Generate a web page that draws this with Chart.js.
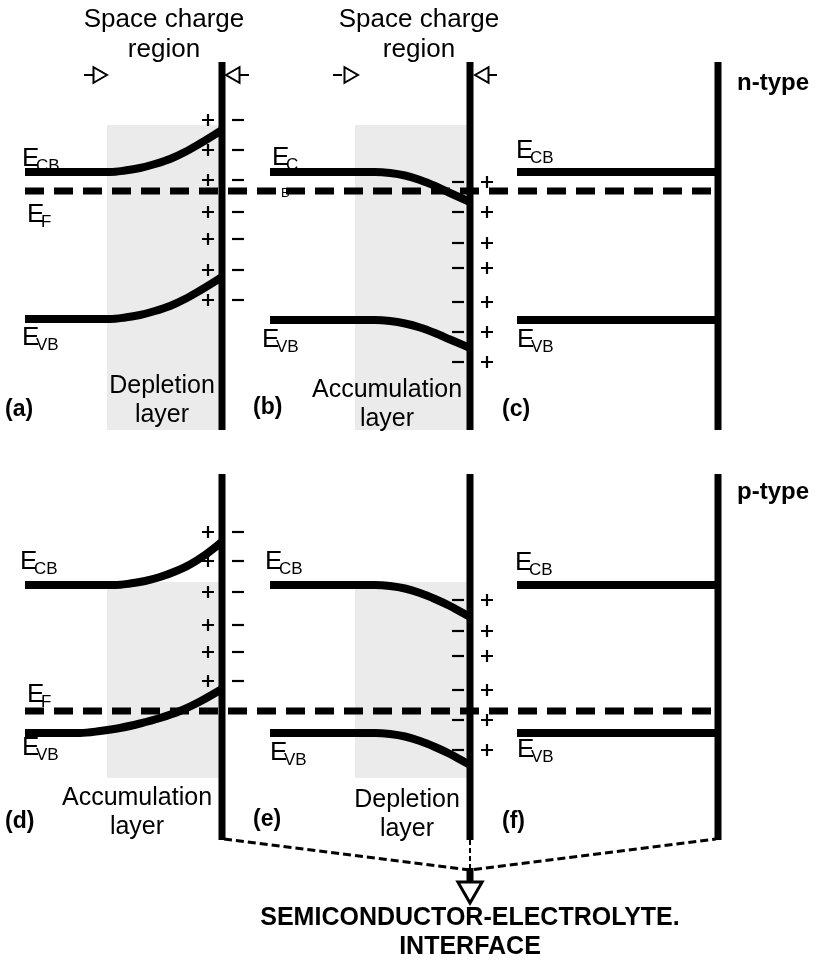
<!DOCTYPE html>
<html>
<head>
<meta charset="utf-8">
<script src="https://cdn.jsdelivr.net/npm/chart.js@4.4.1/dist/chart.umd.min.js"></script>
<style>
    html, body { margin: 0; padding: 0; background: #fff; }
    #wrap { width: 817px; height: 964px; }
</style>
</head>
<body>
<div id="wrap"><canvas id="bands" width="817" height="964"></canvas></div>
<script>
// figure units: x runs across the cells, y is the energy position (downwards)
const panelTags = ['(a)', '(b)', '(c)', '(d)', '(e)', '(f)']
const layerNames = [['Depletion', 'layer'], ['Accumulation', 'layer'], [], ['Accumulation', 'layer'], ['Depletion', 'layer'], []]
const dopingNames = ['n-type', 'p-type']
const regionTitle = ['Space charge', 'region']
const interfaceTitle = ['SEMICONDUCTOR-ELECTROLYTE.', 'INTERFACE']

// band edges (conduction / valence), bulk -> surface
const ecbA = [[25, 172], [110, 172], [125, 170.5], [140, 168], [155, 164], [170, 159], [185, 152], [200, 143.5], [222, 130]]
const evbA = [[25, 319], [110, 319], [125, 317.5], [140, 315], [155, 311], [170, 306], [185, 299], [200, 290.5], [222, 277]]
const ecbB = [[270, 172], [375, 172], [390, 173], [405, 175.5], [420, 180], [435, 186], [450, 193], [470, 202]]
const evbB = [[270, 320], [375, 320], [390, 321], [405, 323.5], [420, 327.5], [435, 333], [450, 339.5], [470, 348]]
const ecbC = [[517, 172], [718, 172]]
const evbC = [[517, 320], [718, 320]]
const ecbD = [[25, 585], [115, 585], [130, 583.5], [145, 581], [160, 577], [175, 571.5], [190, 564.5], [205, 555], [222, 542]]
const evbD = [[25, 733], [80, 733], [100, 731], [120, 728], [140, 723.5], [160, 718], [180, 711], [200, 701.5], [222, 689]]
const ecbE = [[270, 585], [375, 585], [390, 586], [405, 588.5], [420, 593], [435, 599], [450, 606], [470, 617]]
const evbE = [[270, 733], [375, 733], [390, 734], [405, 736.5], [420, 741], [435, 747], [450, 754], [470, 765]]
const ecbF = [[517, 585], [718, 585]]
const evbF = [[517, 733], [718, 733]]

// Fermi levels
const fermiN = [[25, 191], [718, 191]]
const fermiP = [[25, 711], [718, 711]]

// interfaces
const wallX = [222, 470, 718]
const wallTop = [[62, 430], [474, 840]]

// space charge regions
const shadeA = [[107, 125], [222, 125], [222, 430], [107, 430], [107, 125]]
const shadeB = [[355, 125], [470, 125], [470, 430], [355, 430], [355, 125]]
const shadeD = [[107, 582], [222, 582], [222, 778], [107, 778], [107, 582]]
const shadeE = [[355, 582], [470, 582], [470, 778], [355, 778], [355, 582]]

// fixed charges at the interface
const chargeYA = [120, 150, 180, 212, 239, 270, 300]
const chargeYB = [182, 212, 243, 268, 302, 332, 362]
const chargeYD = [532, 561, 592, 625, 652, 681]
const chargeYE = [600, 631, 656, 690, 720, 750]

const pts = arr => arr.map(([x, y]) => ({ x, y }))
const black = '#000'
const datasets = []

for (const s of [shadeA, shadeB, shadeD, shadeE]) {
    datasets.push({ data: pts(s), showLine: true, fill: 'shape', backgroundColor: '#ebebeb', borderWidth: 0, pointRadius: 0, order: 10 })
}
for (const f of [fermiN, fermiP]) {
    datasets.push({ data: pts(f), showLine: true, borderColor: black, borderWidth: 7, borderDash: [19, 10], borderCapStyle: 'butt', pointRadius: 0, order: 6 })
}
for (const b of [ecbA, evbA, ecbB, evbB, ecbC, evbC, ecbD, evbD, ecbE, evbE, ecbF, evbF]) {
    datasets.push({ data: pts(b), showLine: true, borderColor: black, borderWidth: 8, cubicInterpolationMode: 'monotone', borderJoinStyle: 'round', pointRadius: 0, order: 5 })
}
for (const [y0, y1] of wallTop) {
    for (const x of wallX) {
        datasets.push({ data: pts([[x, y0], [x, y1]]), showLine: true, borderColor: black, borderWidth: 7, pointRadius: 0, order: 4 })
    }
}

// + on the semiconductor side / - on the electrolyte side, and the reverse
const plusPts = [], minusPts = []
chargeYA.forEach(y => { plusPts.push([208, y]); minusPts.push([238, y]) })
chargeYD.forEach(y => { plusPts.push([208, y]); minusPts.push([238, y]) })
chargeYB.forEach(y => { minusPts.push([458, y]); plusPts.push([487, y]) })
chargeYE.forEach(y => { minusPts.push([458, y]); plusPts.push([487, y]) })
datasets.push({ data: pts(plusPts), pointStyle: 'cross', pointRadius: 6, borderWidth: 2.2, borderColor: black, order: 3 })
datasets.push({ data: pts(minusPts), pointStyle: 'line', pointRadius: 6, borderWidth: 2.2, borderColor: black, order: 3 })

// space charge region arrows
const arrowTails = [[[84, 75], [93, 75]], [[240, 75], [249, 75]], [[333, 75], [342, 75]], [[488, 75], [497, 75]]]
for (const t of arrowTails) {
    datasets.push({ data: pts(t), showLine: true, borderColor: black, borderWidth: 2, pointRadius: 0, order: 2 })
}
datasets.push({ data: pts([[98, 75], [349, 75]]), pointStyle: 'triangle', rotation: 90, pointRadius: 9, backgroundColor: '#fff', borderColor: black, borderWidth: 2, order: 1 })
datasets.push({ data: pts([[235, 75], [484, 75]]), pointStyle: 'triangle', rotation: -90, pointRadius: 9, backgroundColor: '#fff', borderColor: black, borderWidth: 2, order: 1 })

// pointer to the interface
datasets.push({ data: pts([[224, 839], [470, 870], [716, 839]]), showLine: true, borderColor: black, borderWidth: 3, borderDash: [8, 4], pointRadius: 0, order: 2 })
datasets.push({ data: pts([[470, 840], [470, 870]]), showLine: true, borderColor: black, borderWidth: 2, borderDash: [5, 3], pointRadius: 0, order: 2 })
datasets.push({ data: pts([[470, 868], [470, 884]]), showLine: true, borderColor: black, borderWidth: 7, pointRadius: 0, order: 2 })
datasets.push({ data: pts([[470, 889]]), pointStyle: 'triangle', rotation: 180, pointRadius: 14, backgroundColor: '#fff', borderColor: black, borderWidth: 3, order: 1 })

// text anchors (figure units)
const tagAt = [[5, 410], [253, 408], [502, 410], [5, 822], [253, 820], [502, 822]]
const layerAt = [[162, 386], [387, 390], null, [137, 798], [407, 800], null]
const titleAt = [[164, 18], [419, 18]]
const dopingAt = [[737, 83], [737, 492]]
const energyLabels = [
    ['CB', 22, 166], ['F', 27, 222], ['VB', 22, 345], ['C', 272, 165], ['VB', 262, 347], ['CB', 516, 158], ['VB', 517, 347],
    ['CB', 20, 569], ['F', 27, 702], ['VB', 22, 755], ['CB', 265, 569], ['VB', 270, 760], ['CB', 515, 570], ['VB', 517, 757]
]

const FONT = `'Liberation Sans', Arial, sans-serif`

const figureText = {
    id: 'figureText',
    beforeDatasetsDraw(chart) {
        const { ctx, scales: { x, y } } = chart
        ctx.save()
        ctx.fillStyle = black
        ctx.font = `13px ${FONT}`
        ctx.textBaseline = 'alphabetic'
        ctx.fillText('B', x.getPixelForValue(281), y.getPixelForValue(197))
        ctx.restore()
    },
    afterDatasetsDraw(chart) {
        const { ctx, scales: { x, y } } = chart
        const px = v => x.getPixelForValue(v)
        const py = v => y.getPixelForValue(v)
        ctx.save()
        ctx.fillStyle = black

        ctx.textAlign = 'center'
        ctx.textBaseline = 'middle'
        ctx.font = `26px ${FONT}`
        for (const [cx, cy] of titleAt) {
            regionTitle.forEach((t, i) => ctx.fillText(t, px(cx), py(cy + 2 + i * 30)))
        }
        ctx.font = `25px ${FONT}`
        layerNames.forEach((lines, p) => {
            if (!layerAt[p]) return
            lines.forEach((t, i) => ctx.fillText(t, px(layerAt[p][0]), py(layerAt[p][1] + i * 29)))
        })
        ctx.font = `bold 25px ${FONT}`
        interfaceTitle.forEach((t, i) => ctx.fillText(t, px(470), py(918 + i * 29)))

        ctx.textAlign = 'left'
        ctx.font = `bold 23px ${FONT}`
        panelTags.forEach((t, i) => ctx.fillText(t, px(tagAt[i][0]), py(tagAt[i][1])))
        ctx.font = `bold 24px ${FONT}`
        dopingNames.forEach((t, i) => ctx.fillText(t, px(dopingAt[i][0]), py(dopingAt[i][1])))

        ctx.textBaseline = 'alphabetic'
        for (const [sub, ex, ey] of energyLabels) {
            ctx.font = `26px ${FONT}`
            ctx.fillText('E', px(ex), py(ey))
            ctx.font = `17px ${FONT}`
            ctx.fillText(sub, px(ex + 14), py(ey + 5))
        }
        ctx.restore()
    }
}

new Chart(document.getElementById('bands'), {
    type: 'scatter',
    data: { datasets },
    options: {
        responsive: false,
        animation: false,
        events: [],
        layout: { padding: 0, autoPadding: false },
        elements: { point: { radius: 0 } },
        scales: {
            x: { type: 'linear', min: 0, max: 817, display: false },
            y: { type: 'linear', min: 0, max: 964, reverse: true, display: false }
        },
        plugins: { legend: { display: false }, tooltip: { enabled: false } }
    },
    plugins: [figureText]
})
</script>
</body>
</html>
